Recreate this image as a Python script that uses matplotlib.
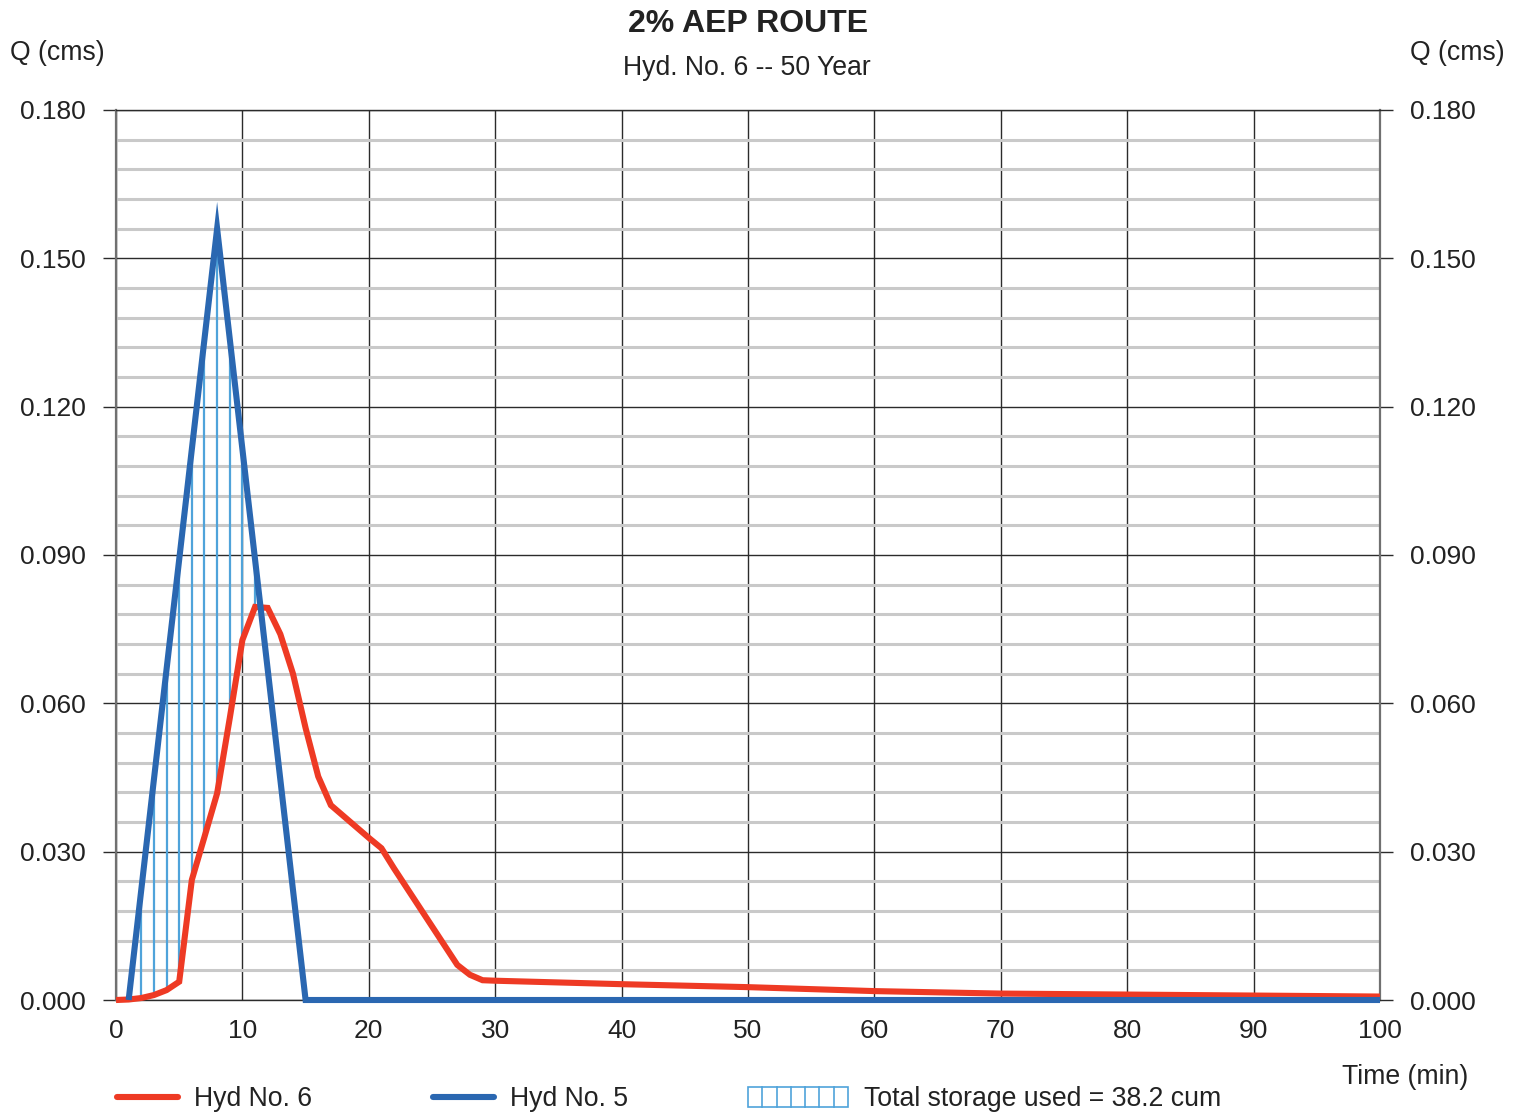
import matplotlib
matplotlib.use("Agg")
import matplotlib.pyplot as plt
from matplotlib.lines import Line2D
from matplotlib.patches import Rectangle, Polygon
from matplotlib.transforms import IdentityTransform
import numpy as np

plt.rcParams['font.family'] = ['Liberation Sans', 'DejaVu Sans']

# ---- data -------------------------------------------------------------
# Inflow hydrograph (Hyd No. 5), one value per minute 1..15, zero afterwards
inflow_time = [1, 2, 3, 4, 5, 6, 7, 8, 9, 10, 11, 12, 13, 14, 15, 100]
inflow_q = [0.0, 0.0223, 0.0446, 0.0669, 0.0891, 0.1114, 0.1337, 0.156,
            0.1337, 0.1114, 0.0891, 0.0669, 0.0446, 0.0223, 0.0, 0.0]

# Routed outflow hydrograph (Hyd No. 6)
outflow_time = [0, 1, 2, 3, 4, 5, 6, 7, 8, 9, 10, 11, 12, 13, 14, 15, 16, 17,
                18, 19, 20, 21, 22, 23, 24, 25, 26, 27, 28, 29, 30,
                40, 50, 60, 70, 80, 90, 100]
outflow_q = [0.0, 0.0001, 0.0004, 0.0010, 0.0020, 0.0037, 0.0243, 0.0330,
             0.0418, 0.0570, 0.0728, 0.0795, 0.0793, 0.0740, 0.0660, 0.0550,
             0.0452, 0.0394, 0.0372, 0.0350, 0.0328, 0.0307, 0.0266, 0.0227,
             0.0188, 0.0149, 0.0110, 0.0071, 0.0051, 0.0040, 0.0039,
             0.0032, 0.0026, 0.0018, 0.0013, 0.0011, 0.0009, 0.0007]

x_ticks = [0, 10, 20, 30, 40, 50, 60, 70, 80, 90, 100]
y_ticks = [0.0, 0.03, 0.06, 0.09, 0.12, 0.15, 0.18]
y_tick_labels = ["0.000", "0.030", "0.060", "0.090", "0.120", "0.150", "0.180"]
storage_text = "Total storage used = 38.2 cum"

RED = "#ee3a24"
BLUE = "#2a67b1"
HATCH = "#4fa3da"
MAJOR = "#2b2b2b"
MINOR = "#c9c9c9"
TEXT = "#222222"
LINE_PX = 6.1

W, H = 1522, 1112
fig = plt.figure(figsize=(W / 100, H / 100), dpi=100)
ax = fig.add_axes([116 / W, 1 - 1000 / H, (1380 - 116) / W, (1000 - 110) / H])

ax.set_xlim(0, 100)
ax.set_ylim(0, 0.18)

# grid
ax.set_xticks(x_ticks)
ax.set_yticks(y_ticks)
ax.set_yticklabels(y_tick_labels)
ax.set_yticks(np.arange(0, 0.1801, 0.006), minor=True)
ax.grid(which='minor', axis='y', color=MINOR, lw=2.2, zorder=0)
ax.grid(which='major', axis='both', color=MAJOR, lw=1.0, zorder=1)
ax.set_axisbelow(True)

for side in ['left', 'right']:
    ax.spines[side].set_color('#707070')
    ax.spines[side].set_linewidth(1.6)
for side in ['top', 'bottom']:
    ax.spines[side].set_color(MAJOR)
    ax.spines[side].set_linewidth(1.0)

ax.tick_params(axis='y', which='major', direction='out', length=9.5, width=1.0,
               color=MAJOR, left=True, right=True, labelleft=True,
               labelright=True, labelsize=19, pad=12, labelcolor=TEXT)
ax.tick_params(axis='y', which='minor', length=0)
ax.tick_params(axis='x', which='major', length=0, labelsize=19, pad=14,
               labelcolor=TEXT)

# storage hatch: vertical strokes where inflow exceeds outflow
in_at = dict(zip(inflow_time, inflow_q))
out_at = dict(zip(outflow_time, outflow_q))
hatch_t = [t for t in range(1, 16) if in_at.get(t, 0) > out_at.get(t, 0)]
ax.vlines(hatch_t, [out_at[t] for t in hatch_t], [in_at[t] for t in hatch_t],
          color=HATCH, lw=1.6, zorder=2)


def mitred_outline(xs, ys, width_px):
    """Outline polygon (display pixels) of a thick polyline with full miter joins."""
    pts = ax.transData.transform(np.column_stack([xs, ys]))
    d = np.diff(pts, axis=0)
    d = d / np.linalg.norm(d, axis=1)[:, None]
    normals = np.column_stack([-d[:, 1], d[:, 0]])
    half = width_px / 2.0
    left, right = [], []
    for i, p in enumerate(pts):
        if i == 0:
            off = normals[0] * half
        elif i == len(pts) - 1:
            off = normals[-1] * half
        else:
            n1, n2 = normals[i - 1], normals[i]
            m = n1 + n2
            m = m / np.linalg.norm(m)
            off = m * half / max(np.dot(m, n1), 1e-3)
        left.append(p + off)
        right.append(p - off)
    return np.vstack([left, right[::-1]])


ax.plot(outflow_time, outflow_q, color=RED, lw=LINE_PX * 0.72, zorder=3,
        solid_joinstyle='miter', solid_capstyle='butt', clip_on=False)
blue_poly = Polygon(mitred_outline(inflow_time, inflow_q, LINE_PX), closed=True,
                    facecolor=BLUE, edgecolor='none', transform=IdentityTransform(),
                    zorder=4, clip_on=False)
ax.add_artist(blue_poly)

# titles and axis captions
def fx(x):
    return x / W


def fy(y):
    return 1 - y / H


fig.text(fx(748), fy(24), "2% AEP ROUTE", ha='center', va='center',
         fontsize=23, fontweight='bold', color=TEXT)
fig.text(fx(747), fy(68), "Hyd. No. 6 -- 50 Year", ha='center', va='center',
         fontsize=19.2, color=TEXT)
fig.text(fx(10), fy(53), "Q (cms)", ha='left', va='center', fontsize=19.2,
         color=TEXT)
fig.text(fx(1505), fy(53), "Q (cms)", ha='right', va='center', fontsize=19.2,
         color=TEXT)
fig.text(fx(1468), fy(1077), "Time (min)", ha='right', va='center',
         fontsize=19.2, color=TEXT)

# legend row
ly = 1097
fig.add_artist(Line2D([fx(117), fx(178)], [fy(ly), fy(ly)], color=RED, lw=4.4,
                      solid_capstyle='round'))
fig.text(fx(194), fy(ly + 2), "Hyd No. 6", ha='left', va='center',
         fontsize=19.2, color=TEXT)
fig.add_artist(Line2D([fx(433), fx(494)], [fy(ly), fy(ly)], color=BLUE, lw=4.4,
                      solid_capstyle='round'))
fig.text(fx(510), fy(ly + 2), "Hyd No. 5", ha='left', va='center',
         fontsize=19.2, color=TEXT)
bx0, bx1, by0, by1 = 748, 848, 1087, 1107
fig.add_artist(Rectangle((fx(bx0), fy(by1)), fx(bx1 - bx0), (by1 - by0) / H,
                         fill=False, edgecolor=HATCH, lw=1.2))
for k in range(1, 7):
    xk = bx0 + k * (bx1 - bx0) / 7
    fig.add_artist(Line2D([fx(xk), fx(xk)], [fy(by0), fy(by1)], color=HATCH,
                          lw=1.2))
fig.text(fx(864), fy(ly + 2), storage_text, ha='left', va='center',
         fontsize=19.2, color=TEXT)

fig.savefig("out.png", dpi=100)
